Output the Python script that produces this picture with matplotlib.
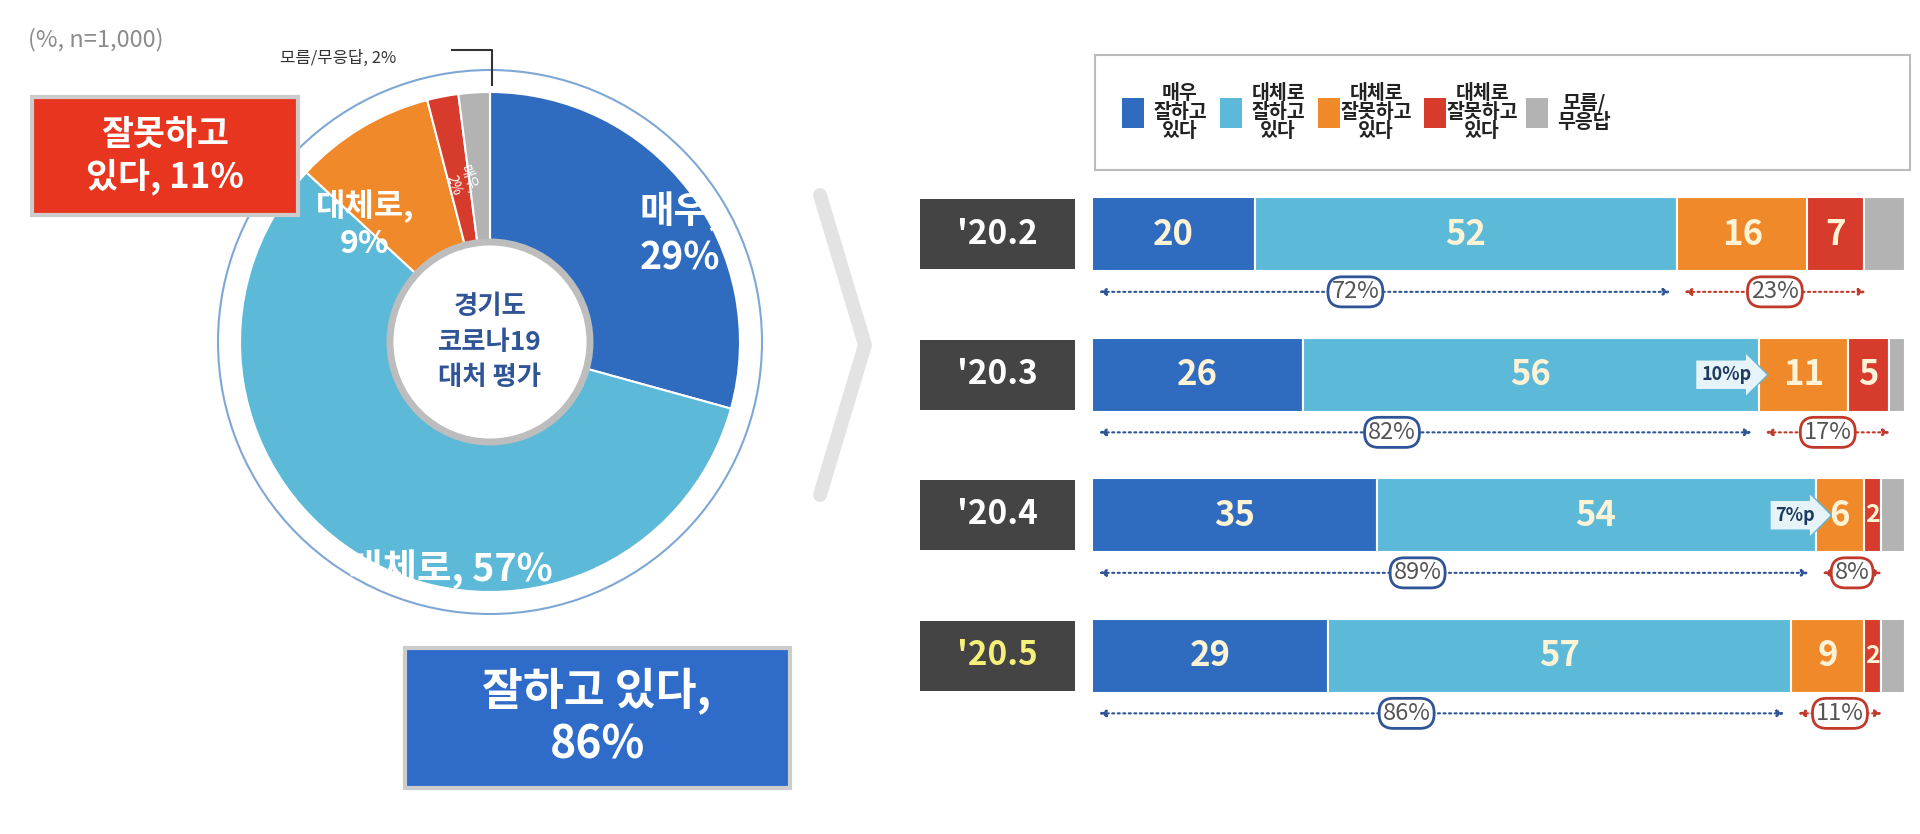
import matplotlib
matplotlib.use('Agg')
import matplotlib.pyplot as plt
from matplotlib.patches import Circle, FancyBboxPatch

plt.rcParams['font.family'] = ['Noto Sans CJK KR', 'DejaVu Sans']

# 데이터
pie_labels = ['매우,\n29%', '대체로, 57%', '대체로,\n9%', '매우,\n2%', '']
pie_values = [29, 57, 9, 2, 2]
periods = ["'20.2", "'20.3", "'20.4", "'20.5"]
very_good = [20, 26, 35, 29]
good = [52, 56, 54, 57]
bad = [16, 11, 6, 9]
very_bad = [7, 5, 2, 2]
dunno = [5, 2, 3, 3]
pos_total = ['72%', '82%', '89%', '86%']
neg_total = ['23%', '17%', '8%', '11%']
legend_labels = ['매우\n잘하고\n있다', '대체로\n잘하고\n있다', '대체로\n잘못하고\n있다', '대체로\n잘못하고\n있다', '모름/\n무응답']

colors = ['#2f6cbf', '#5cb9d8', '#f0892a', '#d63b2c', '#b3b3b3']

fig = plt.figure(figsize=(19.2, 8.34), dpi=100)
ax = fig.add_axes([0, 0, 1, 1])

# 도넛 (y축이 뒤집혀 있으므로 -90도에서 시작, 반시계 = 화면상 시계방향)
cx, cy = 490, 342
wedges, _ = ax.pie(pie_values, colors=colors, startangle=-90, counterclock=True,
                   center=(cx, cy), radius=250, frame=True,
                   wedgeprops=dict(width=150, ec='white', lw=1.5))
ax.set_xlim(0, 1920)
ax.set_ylim(834, 0)
ax.set_aspect('equal')
ax.axis('off')
ax.add_patch(Circle((cx, cy), 272, fill=False, ec='#7fa7d6', lw=1.5))
ax.add_patch(Circle((cx, cy), 100, fc='white', ec='#bdbdbd', lw=5))
ax.text(cx, cy, '경기도\n코로나19\n대처 평가', ha='center', va='center', fontsize=19,
        fontweight='bold', color='#2f5597', linespacing=1.4)
ax.text(680, 235, pie_labels[0], ha='center', va='center', fontsize=27, color='white', fontweight='bold')
ax.text(450, 570, pie_labels[1], ha='center', va='center', fontsize=27, color='white', fontweight='bold')
ax.text(365, 225, pie_labels[2], ha='center', va='center', fontsize=23, color='white', fontweight='bold')
ax.text(462, 182, pie_labels[3], ha='center', va='center', fontsize=10, color='white', rotation=-70)
ax.text(28, 40, '(%, n=1,000)', fontsize=17, color='#8c8c8c', va='center')
ax.text(280, 58, '모름/무응답, 2%', fontsize=12, color='#333333', va='center')
ax.plot([452, 492, 492], [50, 50, 85], color='#333333', lw=1.5)

ax.add_patch(FancyBboxPatch((32, 97), 266, 118, boxstyle='square,pad=0', fc='#e8351f', ec='#cccccc', lw=3))
ax.text(165, 156, '잘못하고\n있다, 11%', ha='center', va='center', fontsize=25, color='white', fontweight='bold')
ax.add_patch(FancyBboxPatch((405, 648), 385, 140, boxstyle='square,pad=0', fc='#2f6cc9', ec='#cccccc', lw=3))
ax.text(597, 718, '잘하고 있다,\n86%', ha='center', va='center', fontsize=32, color='white', fontweight='bold')

# 화살표 꺾쇠
ax.plot([820, 865, 820], [195, 345, 495], color='#e3e3e3', lw=10, solid_capstyle='round')

# 범례
ax.add_patch(FancyBboxPatch((1095, 55), 815, 115, boxstyle='square,pad=0', fc='white', ec='#bbbbbb', lw=1.5))
lx = [1122, 1220, 1318, 1424, 1526]
for i, (c, lab) in enumerate(zip(colors, legend_labels)):
    ax.add_patch(FancyBboxPatch((lx[i], 98), 22, 30, boxstyle='square,pad=0', fc=c, ec='none'))
    ax.text(lx[i] + 58, 112, lab, ha='center', va='center', fontsize=14, fontweight='bold',
            color='#222222', linespacing=1.0)

# 기간 라벨
for i, p in enumerate(periods):
    yc = 234 + i * 140.5
    ax.add_patch(FancyBboxPatch((920, yc - 35), 155, 70, boxstyle='square,pad=0', fc='#444444', ec='none'))
    ax.text(997, yc, p, ha='center', va='center', fontsize=24, fontweight='bold',
            color='#f5f07a' if i == 3 else 'white')

# 막대
bx = fig.add_axes([1092 / 1920, 1 - 726 / 834, 813 / 1920, 562 / 834])
bx.set_xlim(0, 100)
bx.set_ylim(3.5, -0.5)
bx.axis('off')
ys = list(range(len(periods)))
left = [0] * 4
series = [very_good, good, bad, very_bad, dunno]
for s, c in zip(series, colors):
    bx.barh(ys, s, left=left, height=0.53, color=c, ec='white', lw=1.5)
    for y, v, l in zip(ys, s, left):
        if c != colors[4]:
            fs = 25 if v >= 5 else 18
            bx.text(l + v / 2, y, str(v), ha='center', va='center', fontsize=fs,
                    color='#fff3d6', fontweight='bold')
    left = [l + v for l, v in zip(left, s)]

for y, vg, g, b, vb, pt, nt in zip(ys, very_good, good, bad, very_bad, pos_total, neg_total):
    yy = y + 0.41
    pos_end = vg + g
    neg_end = pos_end + b + vb
    bx.annotate('', xy=(pos_end - 0.5, yy), xytext=(0.5, yy),
                arrowprops=dict(arrowstyle='<|-|>', ls=':', color='#2f5597', lw=1.5, mutation_scale=10))
    bx.text(pos_end * 0.45, yy, pt, ha='center', va='center', fontsize=17, color='#555555',
            bbox=dict(boxstyle='round,pad=0.15,rounding_size=0.6', fc='white', ec='#2f5597', lw=2))
    bx.annotate('', xy=(neg_end + 0.5, yy), xytext=(pos_end + 0.5, yy),
                arrowprops=dict(arrowstyle='<|-|>', ls=':', color='#c0392b', lw=1.5, mutation_scale=10))
    bx.text((pos_end + neg_end) / 2 + 0.5, yy, nt, ha='center', va='center', fontsize=17, color='#555555',
            bbox=dict(boxstyle='round,pad=0.15,rounding_size=0.6', fc='white', ec='#c0392b', lw=2))

# 증감 표시
bx.text(78, 1, '10%p', ha='center', va='center', fontsize=13, fontweight='bold', color='#1f3a5f',
        bbox=dict(boxstyle='rarrow,pad=0.3', fc='#e6f4fa', ec='#5cb9d8'))
bx.text(86.5, 2, '7%p', ha='center', va='center', fontsize=13, fontweight='bold', color='#1f3a5f',
        bbox=dict(boxstyle='rarrow,pad=0.3', fc='#e6f4fa', ec='#5cb9d8'))

fig.savefig('out.png', dpi=100, facecolor='white')
